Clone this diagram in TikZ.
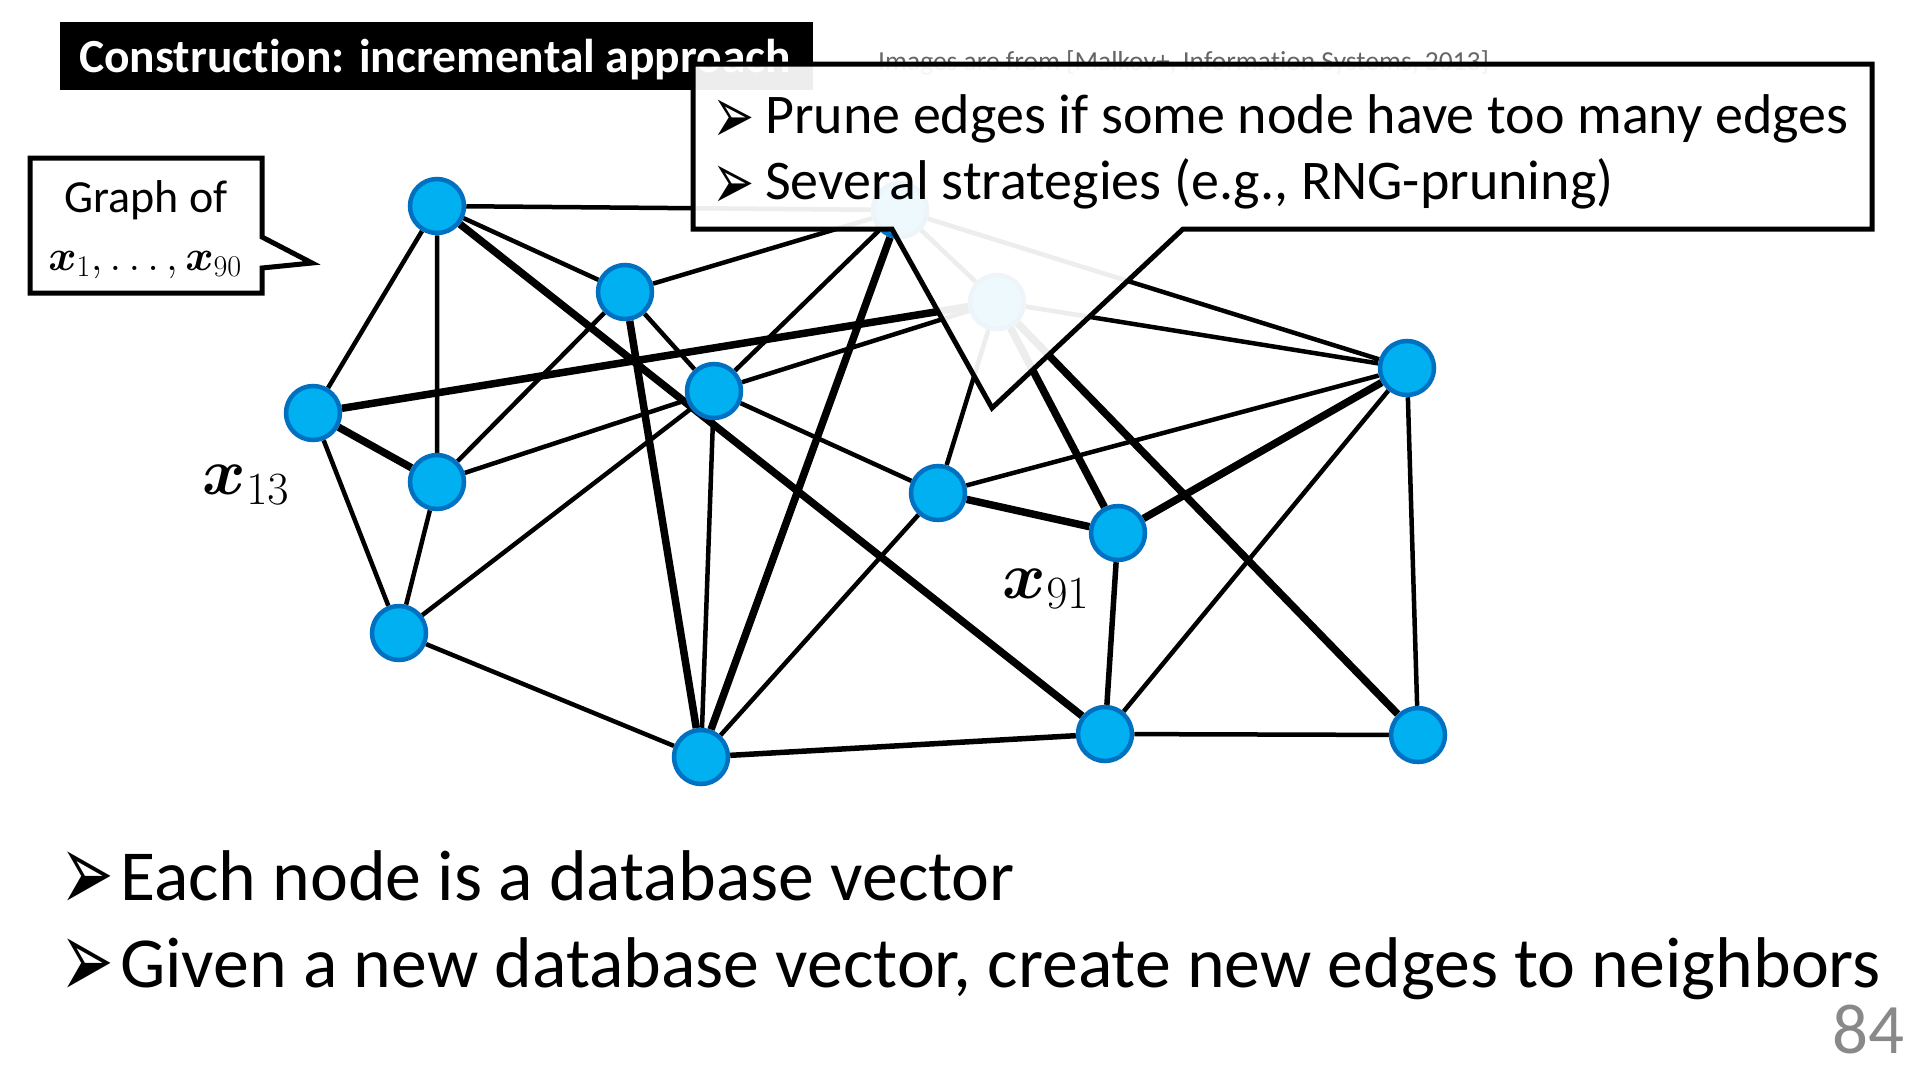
\RequirePackage{fix-cm}
\documentclass[tikz,border=0pt]{standalone}
\usepackage{amsmath}
\usepackage{bm}
\usepackage{fontspec}
\setmainfont{Carlito}[Ligatures=NoCommon]
\newfontfamily\arrowfont{DejaVu Sans}
\usetikzlibrary{backgrounds}

\definecolor{nodeblue}{RGB}{0,176,240}
\definecolor{rimblue}{RGB}{0,112,192}
\definecolor{pagegray}{RGB}{137,137,137}

\tikzset{
  vtx/.style={circle, fill=nodeblue, draw=rimblue, line width=4.5pt, minimum size=54pt, inner sep=0pt},
  edge/.style={line width=4.5pt},
  midedge/.style={line width=5.5pt},
  heavy/.style={line width=7.5pt},
  txt/.style={inner sep=0pt, anchor=base west},
}

\begin{document}
\begin{tikzpicture}[x=1pt,y=-1pt]
        \useasboundingbox (0,0) rectangle (1920,1080);
        
        \node[fill=black, minimum width=753pt, minimum height=68pt, inner sep=0pt, anchor=north west] (title) at (60,22) {};
        \node[txt, text=white] (titletext) at (79,72) {\fontsize{47.5}{56}\selectfont\bfseries Construction: incremental approach};
        \node[txt, text=black!60] (source) at (878,70) {\fontsize{27.5}{33}\selectfont Images are from [Malkov+, Information Systems, 2013]};
        
        \node[vtx] (a) at (437,206) {};
        \node[vtx] (b) at (625,292) {};
        \node[vtx] (c) at (714,391) {};
        \node[vtx] (d) at (313,413) {};
        \node[vtx] (e) at (437,482) {};
        \node[vtx] (f) at (399,633) {};
        \node[vtx] (g) at (701,757) {};
        \node[vtx] (h) at (938,493) {};
        \node[vtx] (i) at (1118,533) {};
        \node[vtx] (j) at (1407,368) {};
        \node[vtx] (k) at (1105,734) {};
        \node[vtx] (l) at (1418,735) {};
        \node[vtx] (p) at (900,210) {};
        \node[vtx] (q) at (997,302) {};
        
        \begin{scope}[on background layer]
        \draw[edge] (a) -- (p) (a) -- (b) (a) -- (d) (a) -- (e);
        \draw[edge] (d) -- (f) (b) -- (p) (b) -- (c) (b) -- (e);
        \draw[edge] (c) -- (p) (c) -- (q) (c) -- (h) (c) -- (e) (c) -- (f) (c) -- (g);
        \draw[edge] (e) -- (f) (f) -- (g) (g) -- (h) (p) -- (q);
        \draw[edge] (p) -- (j) (q) -- (j) (q) -- (h) (h) -- (j);
        \draw[edge] (j) -- (k) (j) -- (l) (k) -- (l);
        \draw[midedge] (g) -- (k) (i) -- (k);
        \draw[heavy] (a) -- (k) (d) -- (q) (d) -- (e) (b) -- (g) (g) -- (p);
        \draw[heavy] (q) -- (i) (q) -- (l) (h) -- (i) (i) -- (j);
        \end{scope}
        
        \node (lab13) at (246,485) {\fontsize{66}{72}\selectfont$\bm{x}_{13}$};
        \node (lab91) at (1046,589) {\fontsize{66}{72}\selectfont$\bm{x}_{91}$};
        
        \draw[line width=5pt, fill=white] (30,158) -- (262,158) -- (262,237) -- (312,263) -- (262,268) -- (262,293) -- (30,293) -- cycle;
        \node[anchor=base, inner sep=0pt] (graphof) at (146,212) {\fontsize{46}{52}\selectfont Graph of};
        \node[anchor=base, inner sep=0pt] (graphset) at (145,270) {\fontsize{43}{48}\selectfont$\bm{x}_1, \ldots, \bm{x}_{90}$};
        
        \draw[line width=5pt, fill=white, fill opacity=0.93] (693,64) -- (1872,64) -- (1872,229) -- (1183,229) -- (992,408) -- (892,229) -- (693,229) -- cycle;
        \node[txt] (tick1) at (712,143) {\arrowfont\fontsize{48}{56}\selectfont\scalebox{1.05}[1.7]{➢}};
        \node[txt] (tick2) at (712,209) {\arrowfont\fontsize{48}{56}\selectfont\scalebox{1.05}[1.7]{➢}};
        \node[txt] (prune) at (765,133) {\fontsize{56}{66}\selectfont Prune edges if some node have too many edges};
        \node[txt] (several) at (765,199) {\fontsize{56}{66}\selectfont Several strategies (e.g., RNG-pruning)};
        
        \node[txt] (tick3) at (60,911) {\arrowfont\fontsize{64}{72}\selectfont\scalebox{1}[1.75]{➢}};
        \node[txt] (tick4) at (60,998) {\arrowfont\fontsize{64}{72}\selectfont\scalebox{1}[1.75]{➢}};
        \node[txt] (each) at (120,900) {\fontsize{71.8}{86}\selectfont Each node is a database vector};
        \node[txt] (given) at (120,987) {\fontsize{71.8}{86}\selectfont Given a new database vector, create new edges to neighbors};
        
        \node[anchor=base east, inner sep=0pt, text=pagegray] (pnum) at (1905,1053) {\fontsize{71}{80}\selectfont 84};
    \end{tikzpicture}
\end{document}
